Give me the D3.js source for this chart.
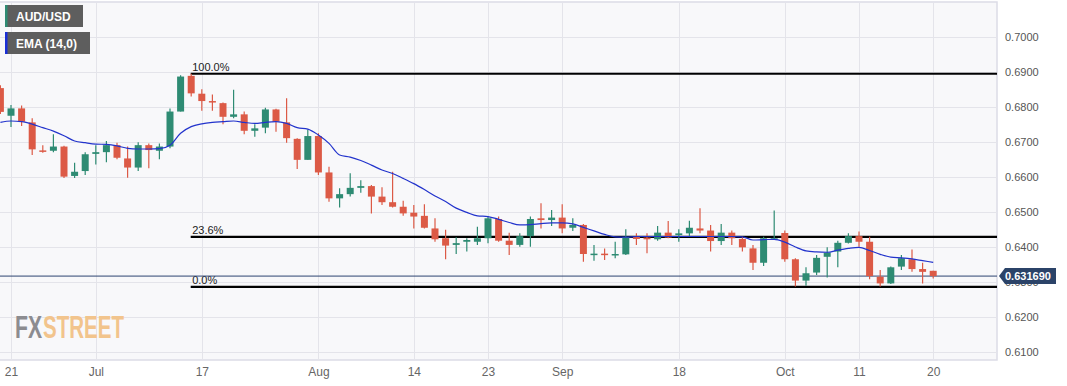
<!DOCTYPE html>
<html>
<head>
<meta charset="utf-8">
<script src="https://cdn.jsdelivr.net/npm/d3@7"></script>
<style>
  body { margin: 0; background: #fff; }
  svg { display: block; font-family: "Liberation Sans", Arial, sans-serif; }
</style>
</head>
<body>
<div id="canvas"></div>
<script>
// AUD/USD daily, Jun 20 - Oct 20 2023
const dates = [
  "Jun 20","Jun 21","Jun 22","Jun 23","Jun 26","Jun 27","Jun 28","Jun 29","Jun 30",
  "Jul 3","Jul 4","Jul 5","Jul 6","Jul 7","Jul 10","Jul 11","Jul 12","Jul 13","Jul 14","Jul 17","Jul 18","Jul 19","Jul 20","Jul 21","Jul 24","Jul 25","Jul 26","Jul 27","Jul 28","Jul 31",
  "Aug 1","Aug 2","Aug 3","Aug 4","Aug 7","Aug 8","Aug 9","Aug 10","Aug 11","Aug 14","Aug 15","Aug 16","Aug 17","Aug 18","Aug 21","Aug 22","Aug 23","Aug 24","Aug 25","Aug 28","Aug 29","Aug 30","Aug 31",
  "Sep 1","Sep 4","Sep 5","Sep 6","Sep 7","Sep 8","Sep 11","Sep 12","Sep 13","Sep 14","Sep 15","Sep 18","Sep 19","Sep 20","Sep 21","Sep 22","Sep 25","Sep 26","Sep 27","Sep 28","Sep 29",
  "Oct 2","Oct 3","Oct 4","Oct 5","Oct 6","Oct 9","Oct 10","Oct 11","Oct 12","Oct 13","Oct 16","Oct 17","Oct 18","Oct 19","Oct 20"
];

const open = [
  0.6854,0.6775,0.6796,0.6756,0.6676,0.6675,0.6687,0.6603,0.6617,
  0.6666,0.6671,0.6691,0.6653,0.6627,0.6691,0.6675,0.6687,0.6787,0.6889,0.6838,0.6817,0.6811,0.6772,0.6779,0.6732,0.6741,0.6793,0.6756,0.6709,0.6649,
  0.6717,0.6613,0.6539,0.6551,0.6569,0.6574,0.6544,0.6528,0.6515,0.6498,0.6489,0.6453,0.6425,0.6406,0.6415,0.6415,0.6425,0.6480,0.6418,0.6406,0.6431,0.6482,0.6477,
  0.6484,0.6455,0.6463,0.6378,0.6381,0.6377,0.6379,0.6429,0.6427,0.6422,0.6441,0.6434,0.6439,0.6453,0.6447,0.6417,0.6441,0.6423,0.6396,0.6355,0.6422,
  0.6440,0.6365,0.6304,0.6327,0.6372,0.6387,0.6412,0.6431,0.6415,0.6315,0.6296,0.6344,0.6365,0.6337,0.6332
];
const high = [
  0.6862,0.6806,0.6804,0.6768,0.6691,0.6722,0.6689,0.6641,0.6671,
  0.6691,0.6703,0.6698,0.6687,0.6699,0.6696,0.6696,0.6796,0.6891,0.6895,0.6851,0.6836,0.6813,0.6849,0.6787,0.6751,0.6798,0.6795,0.6825,0.6711,0.6736,
  0.6725,0.6629,0.6568,0.6611,0.6591,0.6577,0.6571,0.6615,0.6532,0.6520,0.6522,0.6482,0.6449,0.6428,0.6425,0.6458,0.6487,0.6487,0.6441,0.6439,0.6487,0.6525,0.6506,
  0.6522,0.6482,0.6466,0.6406,0.6396,0.6415,0.6451,0.6439,0.6439,0.6460,0.6474,0.6451,0.6475,0.6511,0.6463,0.6466,0.6447,0.6429,0.6406,0.6429,0.6504,
  0.6447,0.6368,0.6342,0.6377,0.6399,0.6418,0.6439,0.6444,0.6429,0.6334,0.6344,0.6377,0.6393,0.6355,0.6332
];
const low = [
  0.6780,0.6743,0.6746,0.6663,0.6669,0.6671,0.6597,0.6597,0.6606,
  0.6636,0.6642,0.6651,0.6598,0.6617,0.6625,0.6651,0.6682,0.6787,0.6830,0.6789,0.6789,0.6751,0.6768,0.6722,0.6715,0.6725,0.6729,0.6698,0.6623,0.6649,
  0.6606,0.6529,0.6513,0.6544,0.6555,0.6496,0.6520,0.6513,0.6489,0.6453,0.6453,0.6415,0.6365,0.6380,0.6387,0.6406,0.6411,0.6415,0.6377,0.6401,0.6401,0.6453,0.6460,
  0.6439,0.6446,0.6358,0.6361,0.6363,0.6368,0.6377,0.6406,0.6382,0.6418,0.6425,0.6415,0.6429,0.6439,0.6387,0.6406,0.6406,0.6387,0.6334,0.6346,0.6420,
  0.6358,0.6287,0.6289,0.6320,0.6313,0.6342,0.6410,0.6401,0.6308,0.6287,0.6294,0.6334,0.6329,0.6296,0.6310
];
const close = [
  0.6786,0.6796,0.6758,0.6679,0.6674,0.6687,0.6601,0.6615,0.6665,
  0.6671,0.6691,0.6655,0.6627,0.6691,0.6677,0.6687,0.6787,0.6887,0.6839,0.6817,0.6813,0.6772,0.6779,0.6732,0.6739,0.6793,0.6758,0.6711,0.6649,0.6717,
  0.6613,0.6539,0.6551,0.6569,0.6574,0.6544,0.6528,0.6515,0.6496,0.6487,0.6455,0.6422,0.6404,0.6411,0.6420,0.6425,0.6482,0.6418,0.6406,0.6431,0.6480,0.6477,0.6484,
  0.6453,0.6463,0.6380,0.6381,0.6378,0.6380,0.6429,0.6423,0.6422,0.6441,0.6427,0.6439,0.6455,0.6447,0.6417,0.6441,0.6425,0.6399,0.6355,0.6425,0.6425,
  0.6365,0.6304,0.6325,0.6369,0.6384,0.6412,0.6431,0.6415,0.6317,0.6296,0.6342,0.6368,0.6337,0.6329,0.6317
];
// EMA (14,0) as drawn on the chart
const ema = [
  0.6756,0.6760,0.6758,0.6751,0.6741,0.6731,0.6718,0.6703,0.6698,
  0.6694,0.6693,0.6689,0.6682,0.6680,0.6680,0.6681,0.6691,0.6725,0.6744,0.6752,0.6756,0.6758,0.6760,0.6756,0.6753,0.6756,0.6758,0.6753,0.6741,0.6737,
  0.6720,0.6696,0.6663,0.6657,0.6647,0.6634,0.6620,0.6610,0.6596,0.6581,0.6564,0.6546,0.6530,0.6511,0.6499,0.6489,0.6487,0.6479,0.6470,0.6463,0.6464,0.6467,0.6469,
  0.6469,0.6466,0.6456,0.6446,0.6436,0.6429,0.6428,0.6430,0.6430,0.6430,0.6430,0.6430,0.6430,0.6430,0.6430,0.6430,0.6430,0.6429,0.6420,0.6421,0.6422,
  0.6414,0.6400,0.6389,0.6386,0.6385,0.6391,0.6396,0.6399,0.6390,0.6379,0.6371,0.6369,0.6366,0.6361,0.6356
];

const xTickDates = ["Jun 21","Jul 3","Jul 17","Aug 1","Aug 14","Aug 23","Sep 1","Sep 18","Oct 2","Oct 11","Oct 20"];
const xTickLabels = ["21","Jul","17","Aug","14","23","Sep","18","Oct","11","20"];
const yTicks = [0.61,0.62,0.63,0.64,0.65,0.66,0.67,0.68,0.69,0.70];

const fibLevels = [0.6895, 0.6429, 0.6286];
const fibLabels = ["100.0%", "23.6%", "0.0%"];
const fibStartDate = "Jul 14";
const lastPrice = 0.631690;

const width = 1067;
const height = 386;
const plot = { left: 0, right: 997, top: 3, bottom: 360 };

const svg = d3.select("#canvas").append("svg")
  .attr("width", width)
  .attr("height", height);

const x = d3.scaleLinear().domain([0, dates.length - 1]).range([0.4, 933.2]);
const y = d3.scaleLinear().domain([0.61, 0.70]).range([352, 37]);
const idx = (d) => dates.indexOf(d);

// plot background
svg.append("rect")
  .attr("x", plot.left - 1)
  .attr("y", plot.top - 1)
  .attr("width", plot.right - plot.left + 1)
  .attr("height", plot.bottom - plot.top + 1)
  .attr("fill", "#f8f8fa")
  .attr("stroke", "#dcdce6")
  .attr("stroke-width", 1.5);

// grid
const grid = svg.append("g");
grid.selectAll(".hg").data(yTicks).enter().append("line")
  .attr("x1", plot.left).attr("x2", plot.right)
  .attr("y1", (d) => Math.round(y(d)) + 0.5)
  .attr("y2", (d) => Math.round(y(d)) + 0.5)
  .attr("stroke", "#e4e4ea");
grid.selectAll(".vg").data(xTickDates).enter().append("line")
  .attr("x1", (d) => Math.round(x(idx(d))) + 0.5)
  .attr("x2", (d) => Math.round(x(idx(d))) + 0.5)
  .attr("y1", plot.top).attr("y2", plot.bottom)
  .attr("stroke", "#e4e4ea");

// watermark
const wmFont = "'Liberation Sans Narrow', 'Liberation Sans', Arial, sans-serif";
svg.append("text")
  .attr("x", 15).attr("y", 338)
  .attr("font-family", wmFont).attr("font-weight", "bold").attr("font-size", 32)
  .attr("textLength", 27).attr("lengthAdjust", "spacingAndGlyphs")
  .attr("fill", "#8c8c90").text("FX");
svg.append("text")
  .attr("x", 43).attr("y", 338)
  .attr("font-family", wmFont).attr("font-weight", "bold").attr("font-size", 32)
  .attr("textLength", 81).attr("lengthAdjust", "spacingAndGlyphs")
  .attr("fill", "#f2c48c").text("STREET");

// fibonacci levels
const fib = svg.append("g");
fibLevels.forEach((lv, i) => {
  fib.append("line")
    .attr("x1", x(idx(fibStartDate)) - 0.5).attr("x2", plot.right)
    .attr("y1", y(lv)).attr("y2", y(lv))
    .attr("stroke", "#000").attr("stroke-width", 2.2);
  fib.append("text")
    .attr("x", x(idx(fibStartDate)) + 1)
    .attr("y", y(lv) - 3)
    .attr("font-size", 11)
    .attr("fill", "#222")
    .text(fibLabels[i]);
});

// last price line
svg.append("line")
  .attr("x1", plot.left).attr("x2", plot.right)
  .attr("y1", y(lastPrice)).attr("y2", y(lastPrice))
  .attr("stroke", "#2d4470").attr("stroke-width", 1);

// candles
const green = "#2e8b73";
const red = "#dc5a46";
const bw = (x(1) - x(0)) * 0.66;
const idxs = d3.range(dates.length);
const candles = svg.append("g");
candles.selectAll(".wick").data(idxs).enter().append("line")
  .attr("x1", (i) => x(i)).attr("x2", (i) => x(i))
  .attr("y1", (i) => y(high[i])).attr("y2", (i) => y(low[i]))
  .attr("stroke", (i) => close[i] >= open[i] ? green : red)
  .attr("stroke-width", 1.2);
candles.selectAll(".body").data(idxs).enter().append("rect")
  .attr("x", (i) => x(i) - bw / 2)
  .attr("y", (i) => y(Math.max(open[i], close[i])))
  .attr("width", bw)
  .attr("height", (i) => Math.max(1.5, Math.abs(y(open[i]) - y(close[i]))))
  .attr("fill", (i) => close[i] >= open[i] ? green : red);

// EMA line
svg.append("path")
  .datum(idxs)
  .attr("fill", "none")
  .attr("stroke", "#2233cc")
  .attr("stroke-width", 1.2)
  .attr("d", d3.line().x((i) => x(i)).y((i) => y(ema[i])).curve(d3.curveMonotoneX));

// y axis (the last price tag sits over the 0.6300 label, as on the original)
const yAxis = svg.append("g")
  .attr("transform", `translate(1000, 0)`)
  .call(d3.axisRight(y).tickValues(yTicks).tickSize(0).tickPadding(5).tickFormat(d3.format(".4f")));
yAxis.select(".domain").remove();
yAxis.selectAll("text").attr("font-size", 11).attr("fill", "#555").attr("font-family", "'Liberation Sans', Arial, sans-serif");

// x axis
const xAxis = svg.append("g")
  .attr("transform", `translate(0, ${plot.bottom})`)
  .call(d3.axisBottom(x)
    .tickValues(xTickDates.map(idx))
    .tickSize(0).tickPadding(7)
    .tickFormat((d) => xTickLabels[xTickDates.indexOf(dates[d])]));
xAxis.select(".domain").remove();
xAxis.selectAll("text")
  .attr("font-size", 12).attr("fill", "#666")
  .attr("font-family", "'Liberation Sans Narrow', 'Liberation Sans', Arial, sans-serif");

// last price tag
const tagY = y(lastPrice);
svg.append("path")
  .attr("d", `M999,${tagY} L1005,${tagY - 8} L1056,${tagY - 8} L1056,${tagY + 8} L1005,${tagY + 8} Z`)
  .attr("fill", "#2b4368");
svg.append("text")
  .attr("x", 1005).attr("y", tagY + 4)
  .attr("font-size", 11).attr("font-weight", "bold").attr("fill", "#fff")
  .text(d3.format(".6f")(lastPrice));

// legend
const legendItems = [
  { label: "AUD/USD", color: green, w: 78, y: 5 },
  { label: "EMA (14,0)", color: "#1a2fd6", w: 85, y: 32 }
];
const lg = svg.append("g");
legendItems.forEach((it) => {
  lg.append("rect").attr("x", 5).attr("y", it.y).attr("width", it.w).attr("height", 22).attr("fill", "#5e5e5e");
  lg.append("rect").attr("x", 5).attr("y", it.y).attr("width", 2.5).attr("height", 22).attr("fill", it.color);
  lg.append("text").attr("x", 16).attr("y", it.y + 15.5)
    .attr("font-size", 12).attr("font-weight", "bold").attr("fill", "#fff")
    .text(it.label);
});
</script>
</body>
</html>
